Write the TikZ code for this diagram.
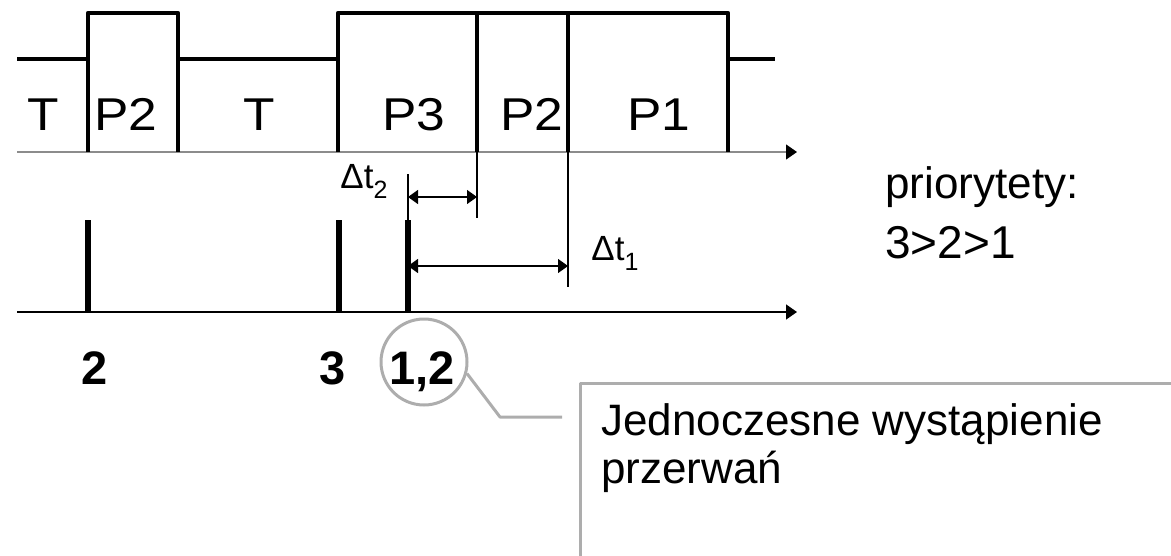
\documentclass[tikz,border=0pt]{standalone}
\usepackage{fontspec}
\setmainfont{Liberation Sans}
\usetikzlibrary{arrows.meta}
\definecolor{osgray}{HTML}{8C8C8C}
\definecolor{callgray}{HTML}{ADADAD}
\newcommand\dolny[1]{\raisebox{-5pt}{\fontsize{12.5}{14}\selectfont #1}}
\newcommand\szer[1]{\scalebox{1.12}[1]{#1}}

\begin{document}
\begin{tikzpicture}[x=0.5pt,y=-0.5pt,line join=round,
	sig/.style={line width=2.3pt},
	cienka/.style={line width=0.65pt},
	grot/.style={-{Triangle[length=5.5pt,width=7.5pt,color=black]}},
	wym/.style={cienka,{Triangle[length=5pt,width=7pt]}-{Triangle[length=5pt,width=7pt]}},
	zad/.style={font=\fontsize{23}{27}\selectfont,inner sep=0pt,anchor=base},
	opis/.style={font=\fontsize{22}{26}\selectfont,inner sep=0pt,anchor=base west},
	nr/.style={font=\fontsize{23.5}{28}\selectfont\bfseries,inner sep=0pt,anchor=base},
	dt/.style={font=\fontsize{17.5}{21}\selectfont,inner sep=0pt,anchor=base west}]
	\clip (0,0) rectangle (1171,556);
	% poziomy sygnalu i osie
	\def\hi{13}
	\def\lo{59}
	\def\osa{152}
	\def\osb{312}
	\coordinate (A0) at (17,\osa);
	\coordinate (A1) at (797,\osa);
	\coordinate (B0) at (17,\osb);
	\coordinate (B1) at (797,\osb);
	\draw[grot,osgray,line width=0.6pt](A0)--(A1);
	\draw[grot,line width=0.7pt](B0)--(B1);
	% przebieg
	\draw[sig](17,\lo)--(88,\lo) (178,\lo)--(338,\lo) (728,\lo)--(775,\lo);
	\draw[sig](88,\osa)--(88,\hi)--(178,\hi)--(178,\osa);
	\draw[sig](338,\osa)--(338,\hi)--(728,\hi)--(728,\osa);
	\draw[sig](477,\hi)--(477,\osa) (568,\hi)--(568,\osa);
	\coordinate (k2) at (477,218);
	\coordinate (k1) at (568,287);
	\coordinate (s) at (408,174);
	\draw[cienka](477,\osa)--(k2) (568,\osa)--(k1) (s)--(408,220);
	\foreach \x in {88,339,408} \draw[line width=2.8pt](\x,220)--(\x,\osb);
	\draw[wym](408,197)--(477,197);
	\draw[wym](408,266)--(568,266);
	\node[dt] (dt2) at (340,188) {Δt\dolny{2}};
	\node[dt] (dt1) at (591,260) {Δt\dolny{1}};
	% zadania
	\node[zad] (t1) at (43,130) {\szer{T}};
	\node[zad] (p2a) at (126,130) {\szer{P2}};
	\node[zad] (t2) at (259,130) {\szer{T}};
	\node[zad] (p3) at (414,130) {\szer{P3}};
	\node[zad] (p2b) at (532,130) {\szer{P2}};
	\node[zad] (p1) at (659,130) {\szer{P1}};
	\node[opis] (prio) at (885,198) {priorytety:};
	\node[opis,font=\fontsize{23}{27}\selectfont] (kolej) at (885,258) {3>2>1};
	% przerwania
	\node[nr] (n2) at (95,384) {2};
	\node[nr] (n3) at (333,384) {3};
	\node[nr] (n12) at (422,384) {1,2};
	\node[draw=callgray,line width=1.5pt,circle,minimum size=43pt,inner sep=0pt] (krag) at (424,362) {};
	\coordinate (kol1) at (500,417);
	\coordinate (kol2) at (562,417);
	\draw[callgray,line width=1.5pt](krag.-15)--(kol1)--(kol2);
	\draw[callgray,line width=1.5pt](1200,383)-|(580,600);
	\node[opis] (opis1) at (601,435) {Jednoczesne wystąpienie};
	\node[opis] (opis2) at (601,483) {przerwań};
\end{tikzpicture}
\end{document}
